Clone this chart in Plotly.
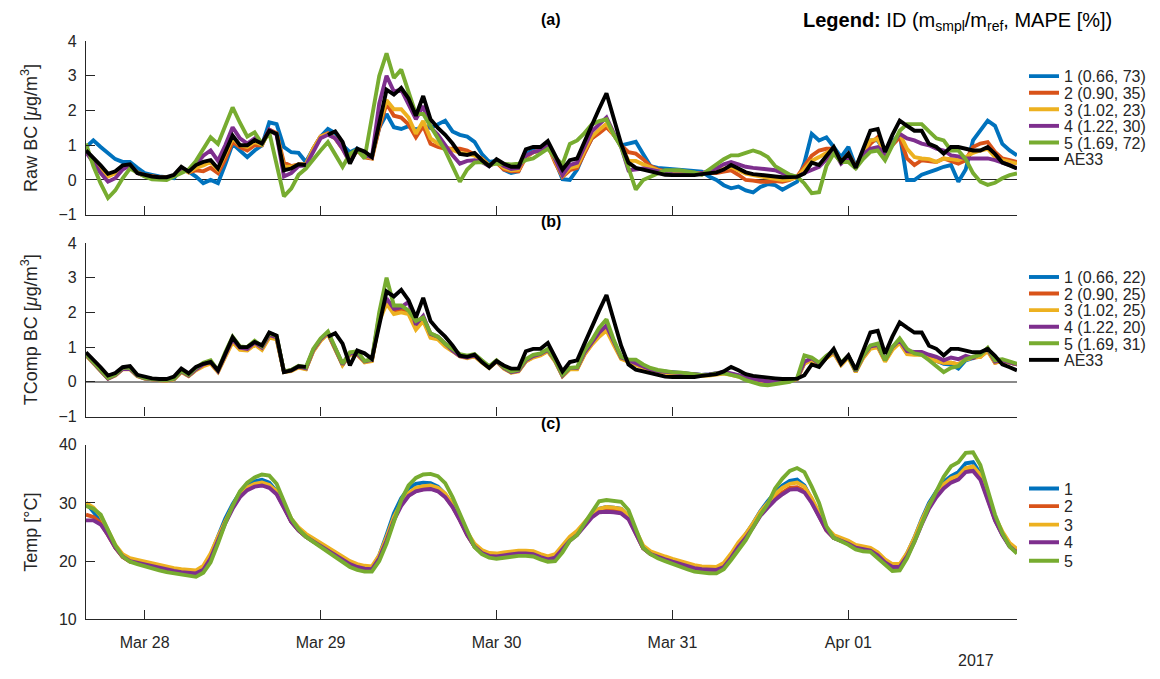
import pandas as pd
import plotly.graph_objects as go

W, H = 1160, 679

# ---------------- data (hourly, from 2017-03-27 16:00) ----------------
start_time = "2017-03-27 16:00"
n_hours = 128

ae33 = [
    0.85, 0.65, 0.42, 0.18, 0.25, 0.42, 0.45, 0.20,
    0.15, 0.10, 0.08, 0.08, 0.15, 0.38, 0.24, 0.43,
    0.52, 0.57, 0.33, 0.80, 1.28, 1.00, 1.00, 1.15,
    1.05, 1.42, 1.33, 0.28, 0.33, 0.45, 0.43, None,
    None, 1.30, 1.40, 1.10, 0.47, 0.90, 0.82, 0.66,
    1.60, 2.60, 2.46, 2.65, 2.35, 1.85, 2.42, 1.75,
    1.50, 1.30, 1.05, 0.75, 0.72, 0.78, 0.57, 0.40,
    0.60, 0.47, 0.38, 0.38, 0.88, 0.95, 0.95, 1.12,
    0.71, 0.30, 0.57, 0.62, 1.10, 1.60, 2.05, 2.50,
    1.80, 1.04, 0.50, 0.35, 0.30, 0.25, 0.20, 0.15,
    0.14, 0.14, 0.14, 0.14, 0.17, 0.19, 0.22, 0.30,
    0.43, 0.33, 0.22, 0.17, 0.14, 0.11, 0.10, 0.08,
    0.08, 0.09, 0.19, 0.50, 0.43, 0.70, 0.95, 0.52,
    0.76, 0.35, 0.90, 1.42, 1.47, 0.81, 1.30, 1.71,
    1.56, 1.42, 1.42, 1.04, 0.95, 0.76, 0.95, 0.95,
    0.90, 0.85, 0.85, 0.95, 0.75, 0.50, 0.42, 0.33,
]

raw_1 = [
    0.95, 1.14, 0.95, 0.76, 0.60, 0.52, 0.52, 0.35,
    0.20, 0.15, 0.10, 0.08, 0.05, 0.33, 0.24, 0.10,
    -0.09, 0.00, -0.09, 0.45, 1.04, 0.85, 0.66, 0.85,
    1.00, 1.66, 1.61, 0.95, 0.80, 0.78, 0.52, 0.90,
    1.25, 1.47, 1.35, 1.00, 0.80, 0.90, 0.66, 0.68,
    1.50, 1.90, 1.52, 1.47, 1.55, 1.45, 1.55, 1.50,
    1.60, 1.71, 1.40, 1.30, 1.25, 1.10, 0.75, 0.52,
    0.55, 0.30, 0.20, 0.25, 0.76, 0.85, 0.90, 1.00,
    0.55, 0.02, 0.00, 0.30, 0.80, 1.20, 1.40, 1.60,
    1.30, 1.00, 1.05, 1.10, 0.75, 0.40, 0.35, 0.33,
    0.30, 0.28, 0.27, 0.25, 0.24, 0.10, 0.00, -0.15,
    -0.24, -0.19, -0.30, -0.36, -0.20, -0.12, -0.15, -0.28,
    -0.15, -0.05, 0.50, 1.33, 1.14, 1.23, 0.95, 0.66,
    0.95, 0.38, 0.80, 1.14, 1.14, 0.80, 1.10, 1.33,
    0.00, 0.00, 0.15, 0.24, 0.30, 0.38, 0.43, -0.05,
    0.30, 1.14, 1.42, 1.71, 1.56, 1.04, 0.85, 0.71,
]

raw_2 = [
    0.80, 0.60, 0.35, 0.12, 0.20, 0.38, 0.42, 0.22,
    0.14, 0.10, 0.08, 0.07, 0.12, 0.35, 0.22, 0.28,
    0.25, 0.35, 0.20, 0.60, 1.10, 0.95, 0.85, 1.00,
    1.00, 1.45, 1.35, 0.50, 0.40, 0.45, 0.45, 0.90,
    1.25, 1.35, 1.20, 0.90, 0.60, 0.85, 0.65, 0.62,
    1.50, 2.20, 1.85, 1.80, 1.60, 1.23, 1.56, 1.04,
    0.95, 0.90, 0.90, 0.90, 0.85, 0.75, 0.62, 0.42,
    0.50, 0.30, 0.25, 0.25, 0.65, 0.80, 0.85, 1.00,
    0.50, 0.09, 0.28, 0.35, 0.80, 1.20, 1.35, 1.52,
    1.30, 1.00, 0.80, 0.76, 0.60, 0.40, 0.30, 0.25,
    0.22, 0.20, 0.20, 0.20, 0.20, 0.19, 0.20, 0.24,
    0.28, 0.15, 0.00, -0.02, -0.05, -0.05, -0.03, -0.05,
    0.00, 0.10, 0.38, 0.70, 0.85, 0.90, 0.90, 0.52,
    0.76, 0.38, 0.75, 1.04, 1.23, 0.76, 1.00, 1.23,
    0.62, 0.43, 0.57, 0.55, 0.52, 0.62, 0.55, 0.47,
    0.57, 0.95, 1.05, 1.09, 0.81, 0.62, 0.57, 0.52,
]

raw_3 = [
    0.82, 0.62, 0.35, 0.10, 0.20, 0.38, 0.43, 0.20,
    0.13, 0.09, 0.07, 0.07, 0.12, 0.36, 0.22, 0.35,
    0.42, 0.52, 0.30, 0.75, 1.20, 1.00, 0.95, 1.10,
    1.02, 1.42, 1.33, 0.38, 0.38, 0.45, 0.45, 0.90,
    1.25, 1.33, 1.20, 0.90, 0.55, 0.85, 0.70, 0.63,
    1.60, 2.30, 2.04, 2.04, 1.80, 1.33, 1.70, 1.20,
    1.05, 0.95, 0.85, 0.78, 0.75, 0.70, 0.60, 0.42,
    0.52, 0.35, 0.28, 0.30, 0.68, 0.80, 0.85, 1.00,
    0.55, 0.12, 0.35, 0.40, 0.85, 1.25, 1.45, 1.62,
    1.30, 1.00, 0.55, 0.55, 0.45, 0.35, 0.28, 0.22,
    0.20, 0.18, 0.18, 0.18, 0.20, 0.22, 0.24, 0.32,
    0.38, 0.28, 0.18, 0.14, 0.10, 0.05, 0.03, 0.00,
    0.02, 0.08, 0.30, 0.55, 0.66, 0.78, 0.90, 0.52,
    0.71, 0.35, 0.80, 1.14, 1.18, 0.76, 1.05, 1.33,
    0.90, 0.66, 0.62, 0.60, 0.52, 0.62, 0.60, 0.57,
    0.66, 0.78, 0.85, 0.90, 0.66, 0.57, 0.52, 0.47,
]

raw_4 = [
    0.80, 0.50, 0.20, -0.05, 0.05, 0.30, 0.42, 0.20,
    0.12, 0.08, 0.06, 0.06, 0.12, 0.35, 0.25, 0.45,
    0.70, 0.85, 0.55, 1.00, 1.52, 1.20, 1.05, 1.20,
    1.05, 1.45, 1.30, 0.10, 0.20, 0.40, 0.42, 0.80,
    1.20, 1.30, 1.20, 0.90, 0.50, 0.88, 0.72, 0.65,
    2.20, 3.00, 2.55, 2.60, 2.20, 1.75, 2.13, 1.52,
    1.30, 1.00, 0.71, 0.47, 0.55, 0.57, 0.52, 0.40,
    0.55, 0.40, 0.32, 0.35, 0.70, 0.80, 0.85, 1.00,
    0.60, 0.14, 0.43, 0.50, 0.95, 1.40, 1.60, 1.80,
    1.35, 0.95, 0.28, 0.30, 0.33, 0.30, 0.25, 0.20,
    0.17, 0.16, 0.16, 0.17, 0.20, 0.28, 0.33, 0.45,
    0.52, 0.45, 0.38, 0.35, 0.33, 0.30, 0.28, 0.20,
    0.14, 0.09, 0.20, 0.28, 0.38, 0.60, 0.85, 0.47,
    0.66, 0.33, 0.75, 0.90, 0.95, 0.76, 1.05, 1.33,
    1.20, 1.14, 1.05, 1.00, 0.90, 0.85, 0.71, 0.68,
    0.62, 0.62, 0.62, 0.62, 0.57, 0.50, 0.43, 0.33,
]

raw_5 = [
    1.05, 0.40, -0.10, -0.52, -0.30, 0.05, 0.33, 0.20,
    0.10, 0.02, 0.00, 0.00, 0.10, 0.20, 0.30, 0.55,
    0.90, 1.23, 1.04, 1.55, 2.09, 1.65, 1.25, 1.37,
    1.04, 1.37, 0.45, -0.47, -0.25, 0.15, 0.33, 0.60,
    0.85, 1.09, 0.75, 0.38, 0.75, 0.88, 0.62, 1.80,
    3.00, 3.65, 2.94, 3.18, 2.50, 1.90, 1.90, 1.55,
    1.20, 0.85, 0.40, -0.05, 0.30, 0.50, 0.52, 0.43,
    0.47, 0.45, 0.45, 0.47, 0.57, 0.62, 0.75, 0.90,
    0.65, 0.45, 1.04, 1.14, 1.35, 1.60, 1.70, 1.75,
    1.30, 0.95, 0.35, -0.28, 0.00, 0.10, 0.20, 0.28,
    0.28, 0.28, 0.25, 0.22, 0.15, 0.30, 0.43, 0.60,
    0.71, 0.71, 0.78, 0.85, 0.78, 0.66, 0.40, 0.28,
    0.15, 0.10, -0.10, -0.38, -0.35, 0.40, 0.76, 0.52,
    0.52, 0.33, 0.60, 0.81, 0.85, 0.57, 1.00, 1.42,
    1.61, 1.61, 1.61, 1.40, 1.20, 1.14, 0.85, 0.85,
    0.60, 0.20, -0.05, -0.14, -0.08, 0.05, 0.14, 0.19,
]

tc_1 = [
    0.78, 0.55, 0.30, 0.10, 0.20, 0.38, 0.38, 0.18,
    0.10, 0.07, 0.05, 0.04, 0.08, 0.30, 0.18, 0.35,
    0.48, 0.55, 0.30, 0.75, 1.18, 0.95, 0.92, 1.10,
    0.95, 1.32, 1.27, 0.30, 0.33, 0.43, 0.38, 0.90,
    1.20, 1.40, 0.95, 0.50, 0.80, 0.80, 0.58, 0.62,
    1.80, 2.35, 2.05, 2.10, 2.05, 1.60, 1.85, 1.35,
    1.28, 1.08, 0.92, 0.77, 0.72, 0.77, 0.60, 0.43,
    0.60, 0.40, 0.28, 0.32, 0.60, 0.72, 0.78, 0.90,
    0.60, 0.18, 0.38, 0.38, 0.82, 1.12, 1.38, 1.58,
    1.12, 0.70, 0.62, 0.52, 0.43, 0.36, 0.31, 0.29,
    0.27, 0.26, 0.25, 0.23, 0.20, 0.21, 0.25, 0.27,
    0.23, 0.19, 0.13, 0.08, 0.04, 0.01, 0.01, 0.03,
    0.04, 0.09, 0.55, 0.65, 0.50, 0.70, 0.86, 0.50,
    0.72, 0.30, 0.72, 1.00, 1.05, 0.62, 0.98, 1.20,
    0.85, 0.82, 0.82, 0.70, 0.62, 0.52, 0.50, 0.38,
    0.62, 0.70, 0.75, 0.92, 0.57, 0.62, 0.56, 0.50,
]

tc_2 = [
    0.78, 0.55, 0.30, 0.10, 0.20, 0.38, 0.38, 0.18,
    0.10, 0.07, 0.05, 0.04, 0.08, 0.30, 0.18, 0.35,
    0.48, 0.55, 0.30, 0.75, 1.18, 0.95, 0.92, 1.10,
    0.95, 1.30, 1.25, 0.30, 0.33, 0.43, 0.38, 0.90,
    1.20, 1.40, 0.95, 0.50, 0.80, 0.80, 0.58, 0.62,
    1.80, 2.30, 2.00, 2.05, 2.00, 1.55, 1.80, 1.30,
    1.25, 1.05, 0.90, 0.75, 0.70, 0.75, 0.58, 0.42,
    0.60, 0.40, 0.28, 0.32, 0.60, 0.72, 0.78, 0.90,
    0.60, 0.18, 0.38, 0.38, 0.80, 1.10, 1.35, 1.55,
    1.10, 0.68, 0.60, 0.50, 0.42, 0.35, 0.30, 0.28,
    0.26, 0.25, 0.24, 0.22, 0.19, 0.20, 0.24, 0.26,
    0.22, 0.18, 0.12, 0.07, 0.03, 0.00, 0.00, 0.02,
    0.03, 0.08, 0.55, 0.65, 0.50, 0.70, 0.85, 0.50,
    0.72, 0.30, 0.70, 0.98, 1.02, 0.60, 0.95, 1.15,
    0.82, 0.80, 0.80, 0.68, 0.60, 0.55, 0.55, 0.50,
    0.65, 0.70, 0.72, 0.90, 0.55, 0.60, 0.55, 0.50,
]

tc_3 = [
    0.76, 0.53, 0.28, 0.09, 0.18, 0.36, 0.36, 0.16,
    0.09, 0.06, 0.04, 0.03, 0.07, 0.28, 0.16, 0.33,
    0.45, 0.52, 0.28, 0.72, 1.14, 0.92, 0.90, 1.07,
    0.92, 1.27, 1.22, 0.28, 0.31, 0.41, 0.36, 0.88,
    1.18, 1.38, 0.92, 0.48, 0.78, 0.78, 0.56, 0.60,
    1.75, 2.25, 1.95, 2.00, 1.95, 1.50, 1.75, 1.27,
    1.22, 1.02, 0.88, 0.73, 0.68, 0.73, 0.56, 0.40,
    0.58, 0.38, 0.26, 0.30, 0.58, 0.70, 0.76, 0.88,
    0.58, 0.16, 0.36, 0.36, 0.78, 1.07, 1.30, 1.48,
    1.06, 0.66, 0.58, 0.48, 0.40, 0.33, 0.28, 0.26,
    0.24, 0.23, 0.22, 0.20, 0.17, 0.18, 0.22, 0.24,
    0.20, 0.16, 0.10, 0.05, 0.02, 0.00, 0.00, 0.02,
    0.03, 0.08, 0.52, 0.62, 0.48, 0.68, 0.82, 0.48,
    0.70, 0.28, 0.68, 0.95, 1.00, 0.58, 0.92, 1.12,
    0.80, 0.78, 0.78, 0.66, 0.60, 0.55, 0.55, 0.50,
    0.64, 0.70, 0.72, 0.88, 0.55, 0.60, 0.55, 0.50,
]

tc_4 = [
    0.78, 0.54, 0.29, 0.09, 0.19, 0.37, 0.37, 0.17,
    0.10, 0.07, 0.05, 0.04, 0.08, 0.30, 0.18, 0.36,
    0.50, 0.57, 0.31, 0.78, 1.22, 0.98, 0.95, 1.13,
    0.98, 1.35, 1.28, 0.29, 0.33, 0.44, 0.39, 0.92,
    1.22, 1.42, 0.97, 0.50, 0.82, 0.82, 0.59, 0.63,
    1.90, 2.40, 2.10, 2.15, 2.30, 1.65, 1.90, 1.38,
    1.30, 1.08, 0.90, 0.74, 0.70, 0.76, 0.58, 0.42,
    0.60, 0.40, 0.28, 0.32, 0.62, 0.74, 0.80, 0.92,
    0.62, 0.18, 0.40, 0.40, 0.84, 1.15, 1.42, 1.62,
    1.15, 0.70, 0.62, 0.52, 0.44, 0.36, 0.31, 0.29,
    0.27, 0.26, 0.25, 0.23, 0.20, 0.21, 0.25, 0.28,
    0.24, 0.20, 0.14, 0.08, 0.04, 0.01, 0.01, 0.03,
    0.04, 0.09, 0.58, 0.68, 0.52, 0.72, 0.88, 0.52,
    0.75, 0.31, 0.74, 1.02, 1.06, 0.63, 1.00, 1.20,
    0.88, 0.86, 0.86, 0.78, 0.72, 0.62, 0.70, 0.65,
    0.75, 0.68, 0.80, 0.95, 0.58, 0.62, 0.56, 0.50,
]

tc_5 = [
    0.80, 0.57, 0.31, 0.11, 0.21, 0.40, 0.40, 0.19,
    0.11, 0.08, 0.06, 0.05, 0.09, 0.32, 0.20, 0.40,
    0.55, 0.62, 0.33, 0.85, 1.30, 1.02, 1.00, 1.18,
    1.02, 1.40, 1.32, 0.30, 0.34, 0.46, 0.42, 0.95,
    1.25, 1.45, 1.00, 0.52, 0.85, 0.88, 0.60, 0.65,
    2.00, 3.00, 2.20, 2.20, 2.05, 1.75, 1.85, 1.40,
    1.30, 1.10, 0.95, 0.80, 0.75, 0.80, 0.62, 0.45,
    0.62, 0.42, 0.30, 0.35, 0.65, 0.78, 0.82, 0.95,
    0.62, 0.20, 0.40, 0.42, 0.90, 1.20, 1.55, 1.80,
    1.20, 0.72, 0.64, 0.64, 0.50, 0.40, 0.34, 0.30,
    0.28, 0.27, 0.25, 0.23, 0.19, 0.20, 0.24, 0.25,
    0.20, 0.15, 0.05, -0.02, -0.08, -0.10, -0.06, -0.03,
    0.00, 0.10, 0.76, 0.70, 0.55, 0.75, 0.90, 0.55,
    0.75, 0.32, 0.75, 1.05, 1.10, 0.62, 1.00, 1.25,
    0.95, 0.82, 0.78, 0.62, 0.45, 0.28, 0.40, 0.45,
    0.65, 0.72, 0.78, 0.98, 0.62, 0.65, 0.58, 0.52,
]

temp_1 = [
    30.0, 28.5, 27.0, 24.8, 22.4, 20.8, 20.0, 19.7,
    19.4, 19.1, 18.8, 18.5, 18.3, 18.1, 18.0, 17.9,
    18.7, 21.0, 24.2, 27.3, 29.8, 31.8, 33.0, 33.7,
    34.0, 33.5, 32.0, 29.5, 26.8, 25.3, 24.2, 23.4,
    22.6, 21.8, 21.0, 20.2, 19.5, 19.0, 18.7, 18.7,
    21.0, 24.5, 28.2, 30.8, 32.5, 33.3, 33.5, 33.4,
    32.8, 31.5, 29.6, 27.2, 24.6, 22.5, 21.4, 20.9,
    20.8, 21.0, 21.2, 21.3, 21.3, 21.2, 20.7, 20.3,
    20.8, 22.4, 24.0, 25.0, 26.6, 28.0, 29.0, 29.3,
    29.2, 29.0, 27.6, 25.0, 22.3, 21.3, 20.7, 20.3,
    19.9, 19.5, 19.1, 18.8, 18.6, 18.5, 18.5, 19.3,
    21.0, 23.0, 24.6, 26.5, 28.6, 30.3, 31.8, 33.0,
    33.8, 34.0, 33.0, 30.6, 28.0, 25.4, 24.0, 23.5,
    23.0, 22.3, 22.0, 21.8, 21.0, 19.8, 19.0, 19.1,
    21.3, 24.0, 27.2, 30.0, 32.0, 33.6, 34.6, 35.3,
    36.8, 37.0, 35.0, 31.0, 27.2, 24.6, 22.6, 21.6,
]

temp_2 = [
    28.0, 27.6, 26.6, 24.6, 22.3, 20.7, 19.9, 19.7,
    19.4, 19.1, 18.8, 18.5, 18.3, 18.1, 18.0, 17.9,
    18.6, 20.7, 23.8, 26.8, 29.3, 31.2, 32.5, 33.1,
    33.3, 32.9, 31.7, 29.4, 26.8, 25.3, 24.2, 23.4,
    22.6, 21.8, 21.0, 20.2, 19.5, 19.0, 18.7, 18.6,
    20.6, 23.8, 27.3, 29.7, 31.3, 32.1, 32.4, 32.5,
    32.1, 31.1, 29.4, 27.1, 24.5, 22.5, 21.4, 20.9,
    20.8, 21.0, 21.2, 21.3, 21.3, 21.2, 20.7, 20.3,
    20.7, 22.2, 23.7, 24.7, 26.2, 27.7, 28.7, 29.0,
    28.9, 28.7, 27.4, 24.9, 22.2, 21.2, 20.7, 20.3,
    19.9, 19.5, 19.1, 18.8, 18.6, 18.5, 18.5, 19.2,
    20.8, 22.7, 24.2, 26.0, 28.0, 29.5, 30.8, 31.8,
    32.6, 32.7, 32.1, 30.2, 27.9, 25.3, 24.0, 23.5,
    23.0, 22.3, 22.0, 21.8, 21.0, 19.8, 19.0, 19.0,
    21.0, 23.6, 26.6, 29.3, 31.3, 32.8, 33.8, 34.3,
    35.7, 36.0, 34.4, 30.8, 27.1, 24.6, 22.6, 21.6,
]

temp_3 = [
    30.0, 29.2, 27.8, 25.2, 22.8, 21.2, 20.5, 20.2,
    19.9, 19.6, 19.3, 19.0, 18.8, 18.6, 18.5, 18.4,
    19.2, 21.3, 24.2, 27.0, 29.4, 31.3, 32.7, 33.3,
    33.5, 33.1, 32.0, 29.8, 27.3, 25.8, 24.7, 23.9,
    23.1, 22.3, 21.5, 20.7, 20.0, 19.5, 19.2, 19.1,
    21.0, 24.1, 27.6, 30.0, 31.7, 32.6, 32.9, 33.0,
    32.6, 31.6, 29.8, 27.5, 25.0, 23.0, 21.9, 21.4,
    21.3, 21.5, 21.7, 21.8, 21.8, 21.7, 21.2, 20.8,
    21.2, 22.7, 24.2, 25.2, 26.7, 28.1, 29.0, 29.3,
    29.2, 29.0, 27.8, 25.3, 22.7, 21.7, 21.2, 20.8,
    20.4, 20.0, 19.6, 19.3, 19.1, 19.0, 19.0, 19.7,
    21.3, 23.2, 24.7, 26.5, 28.5, 30.0, 31.5, 32.6,
    33.3, 33.5, 32.8, 30.8, 28.4, 25.8, 24.5, 24.0,
    23.5, 22.8, 22.5, 22.3, 21.5, 20.3, 19.5, 19.5,
    21.4, 24.0, 27.0, 29.7, 31.7, 33.2, 34.2, 34.7,
    36.0, 36.3, 34.8, 31.2, 27.6, 25.1, 23.1, 22.1,
]

temp_4 = [
    27.0, 27.0, 26.3, 24.5, 22.3, 20.8, 20.0, 19.7,
    19.4, 19.1, 18.8, 18.5, 18.3, 18.1, 18.0, 17.9,
    18.5, 20.5, 23.5, 26.5, 29.0, 31.0, 32.2, 32.8,
    33.0, 32.6, 31.5, 29.3, 26.8, 25.3, 24.2, 23.4,
    22.6, 21.8, 21.0, 20.2, 19.5, 19.0, 18.7, 18.6,
    20.5, 23.5, 27.0, 29.5, 31.2, 32.0, 32.3, 32.4,
    32.0, 31.0, 29.3, 27.0, 24.5, 22.5, 21.4, 20.9,
    20.8, 21.0, 21.2, 21.3, 21.3, 21.2, 20.7, 20.3,
    20.6, 22.0, 23.5, 24.5, 26.0, 27.5, 28.4, 28.5,
    28.4, 28.2, 27.2, 24.8, 22.2, 21.2, 20.7, 20.3,
    19.9, 19.5, 19.1, 18.8, 18.6, 18.5, 18.5, 19.0,
    20.6, 22.5, 24.0, 25.8, 27.8, 29.2, 30.5, 31.5,
    32.3, 32.4, 31.8, 30.0, 27.8, 25.3, 24.0, 23.5,
    23.0, 22.3, 22.0, 21.8, 21.0, 19.8, 19.0, 19.0,
    20.8, 23.3, 26.3, 29.0, 31.0, 32.5, 33.5, 34.0,
    35.3, 35.5, 34.0, 30.5, 27.0, 24.5, 22.5, 21.5,
]

temp_5 = [
    29.5, 29.0, 28.0, 25.5, 22.7, 20.8, 19.9, 19.5,
    19.1, 18.8, 18.4, 18.1, 17.9, 17.6, 17.4, 17.3,
    18.0, 19.8, 23.0, 26.5, 29.5, 32.0, 33.5, 34.4,
    34.9, 34.7, 33.3, 30.5, 27.3, 25.5, 24.2, 23.3,
    22.4, 21.6, 20.7, 19.8, 19.0, 18.5, 18.2, 18.2,
    20.0, 23.0, 27.0, 30.5, 33.0, 34.3, 34.9, 35.0,
    34.6, 33.4, 31.0, 28.2, 25.0, 22.4, 21.2, 20.6,
    20.4, 20.6, 20.8, 20.9, 20.9, 20.8, 20.3, 19.9,
    20.0, 21.5, 23.5, 24.5, 26.5, 28.4, 30.3, 30.5,
    30.4, 30.2, 28.8, 25.5, 22.3, 21.2, 20.5, 20.0,
    19.5, 19.0, 18.6, 18.2, 18.0, 17.9, 17.9, 18.6,
    20.2, 22.0, 23.6, 25.8, 28.0, 29.8, 32.5, 34.2,
    35.5, 36.0, 35.3, 32.8, 30.0, 26.0, 24.0, 23.4,
    22.8, 22.0, 21.7, 21.6, 20.5, 19.3, 18.3, 18.4,
    20.5, 23.3, 26.5, 29.5, 32.0, 34.5, 36.3, 37.0,
    38.6, 38.7, 36.5, 32.0, 28.0, 24.8, 22.5, 21.3,
]

sensor_ids = ["1", "2", "3", "4", "5"]
ratios = ["0.66", "0.90", "1.02", "1.22", "1.69"]
mape_raw = ["73", "35", "23", "30", "72"]
mape_tcomp = ["22", "25", "25", "20", "31"]
ref_name = "AE33"

raw_series = [raw_1, raw_2, raw_3, raw_4, raw_5]
tc_series = [tc_1, tc_2, tc_3, tc_4, tc_5]
temp_series = [temp_1, temp_2, temp_3, temp_4, temp_5]

# ---------------- styling ----------------
colors = ["#0072BD", "#D95319", "#EDB120", "#7E2F8E", "#77AC30"]
ref_color = "#000000"
axis_color = "#262626"
FONT = "Liberation Sans, Arial, Helvetica, sans-serif"
LW = 3.9

times = pd.date_range(start_time, periods=n_hours, freq="h")


def fx(p):
    return p / W


def fy(p):
    return 1 - p / H


x_dom = [fx(86), fx(1017)]
panel_px = {"a": (34, 212), "b": (241, 419), "c": (448, 627)}

fig = go.Figure()

legend_ids = []


def new_legend(x_px, y_px):
    idx = len(legend_ids) + 1
    name = "legend" if idx == 1 else f"legend{idx}"
    legend_ids.append((name, x_px, y_px))
    return name


leg_x = 1024
rows_a = [70, 87, 104, 121, 138, 155]
rows_b = [276, 293, 310, 327, 344, 361]
rows_c = [493, 511, 530, 548, 567]

# panel (a): raw BC
for i in range(5):
    lg = new_legend(leg_x, rows_a[i])
    fig.add_trace(go.Scatter(
        x=times, y=raw_series[i], mode="lines", xaxis="x", yaxis="y",
        name=f"{sensor_ids[i]} ({ratios[i]}, {mape_raw[i]})",
        line=dict(color=colors[i], width=LW), legend=lg, showlegend=True))
lg = new_legend(leg_x, rows_a[5])
fig.add_trace(go.Scatter(x=times, y=ae33, mode="lines", xaxis="x", yaxis="y",
                         name=ref_name, line=dict(color=ref_color, width=LW),
                         legend=lg, showlegend=True))

# panel (b): temperature-compensated BC
for i in range(5):
    lg = new_legend(leg_x, rows_b[i])
    fig.add_trace(go.Scatter(
        x=times, y=tc_series[i], mode="lines", xaxis="x2", yaxis="y2",
        name=f"{sensor_ids[i]} ({ratios[i]}, {mape_tcomp[i]})",
        line=dict(color=colors[i], width=LW), legend=lg, showlegend=True))
lg = new_legend(leg_x, rows_b[5])
fig.add_trace(go.Scatter(x=times, y=ae33, mode="lines", xaxis="x2", yaxis="y2",
                         name=ref_name, line=dict(color=ref_color, width=LW),
                         legend=lg, showlegend=True))

# panel (c): temperature
for i in range(5):
    lg = new_legend(leg_x, rows_c[i])
    fig.add_trace(go.Scatter(
        x=times, y=temp_series[i], mode="lines", xaxis="x3", yaxis="y3",
        name=sensor_ids[i], line=dict(color=colors[i], width=LW),
        legend=lg, showlegend=True))

x_range = [times[0], times[-1]]
tick_font = dict(family=FONT, size=16, color=axis_color)
title_font = dict(family=FONT, size=18, color=axis_color)
label_font = dict(family=FONT, size=16, color="#000000")

common_x = dict(
    domain=x_dom, range=x_range, type="date", showline=True, linecolor=axis_color,
    linewidth=1.2, ticks="inside", ticklen=9, tickwidth=1, tickcolor=axis_color,
    tick0="2017-03-28", dtick=86400000, showgrid=False, zeroline=False,
    tickfont=tick_font, fixedrange=True,
)
common_y = dict(
    showline=True, linecolor=axis_color, linewidth=1.2, ticks="inside",
    ticklen=9, tickwidth=1, tickcolor=axis_color, showgrid=False,
    tickfont=tick_font, ticklabelstandoff=5, fixedrange=True,
)

layout = dict(
    width=W, height=H, margin=dict(l=0, r=0, t=0, b=0),
    paper_bgcolor="white", plot_bgcolor="white", showlegend=True,
    font=dict(family=FONT, color=axis_color),
    xaxis=dict(common_x, anchor="y", showticklabels=False),
    xaxis2=dict(common_x, anchor="y2", showticklabels=False),
    xaxis3=dict(common_x, anchor="y3", showticklabels=True, tickformat="%b %d",
                ticklabelstandoff=8),
    yaxis=dict(common_y, domain=[fy(panel_px["a"][1]), fy(panel_px["a"][0])],
               range=[-1, 4], dtick=1, anchor="x",
               zeroline=True, zerolinecolor=axis_color, zerolinewidth=1.2,
               title=dict(text="Raw BC [<i>μ</i>g/m<sup>3</sup>]", font=title_font, standoff=16)),
    yaxis2=dict(common_y, domain=[fy(panel_px["b"][1]), fy(panel_px["b"][0])],
                range=[-1, 4], dtick=1, anchor="x2",
                zeroline=True, zerolinecolor="#8a8a8a", zerolinewidth=2.2,
                title=dict(text="TComp BC [<i>μ</i>g/m<sup>3</sup>]", font=title_font, standoff=16)),
    yaxis3=dict(common_y, domain=[fy(panel_px["c"][1]), fy(panel_px["c"][0])],
                range=[10, 40], dtick=10, anchor="x3", zeroline=False,
                title=dict(text="Temp [°C]", font=title_font, standoff=16)),
    annotations=[
        dict(text="<b>(a)</b>", x=fx(551), y=fy(12), xref="paper", yref="paper",
             xanchor="center", yanchor="middle", showarrow=False, font=label_font),
        dict(text="<b>(b)</b>", x=fx(551), y=fy(219), xref="paper", yref="paper",
             xanchor="center", yanchor="middle", showarrow=False, font=label_font),
        dict(text="<b>(c)</b>", x=fx(551), y=fy(426), xref="paper", yref="paper",
             xanchor="center", yanchor="middle", showarrow=False, font=label_font),
        dict(text="<b>Legend:</b> ID (m<sub>smpl</sub>/m<sub>ref</sub>, MAPE [%])",
             x=fx(1114), y=fy(14), xref="paper", yref="paper", xanchor="right",
             yanchor="middle", showarrow=False,
             font=dict(family=FONT, size=20, color="#000000")),
        dict(text="2017", x=fx(976), y=fy(669), xref="paper", yref="paper",
             xanchor="center", yanchor="middle", showarrow=False, font=tick_font),
    ],
)

for name, xp, yp in legend_ids:
    layout[name] = dict(
        x=fx(xp), y=fy(yp), xanchor="left", yanchor="middle", visible=True,
        bgcolor="rgba(0,0,0,0)", borderwidth=0, itemwidth=30,
        font=dict(family=FONT, size=16, color=axis_color),
        tracegroupgap=0, itemclick=False, itemdoubleclick=False,
    )

fig.update_layout(layout)
fig.write_html("out.html")
